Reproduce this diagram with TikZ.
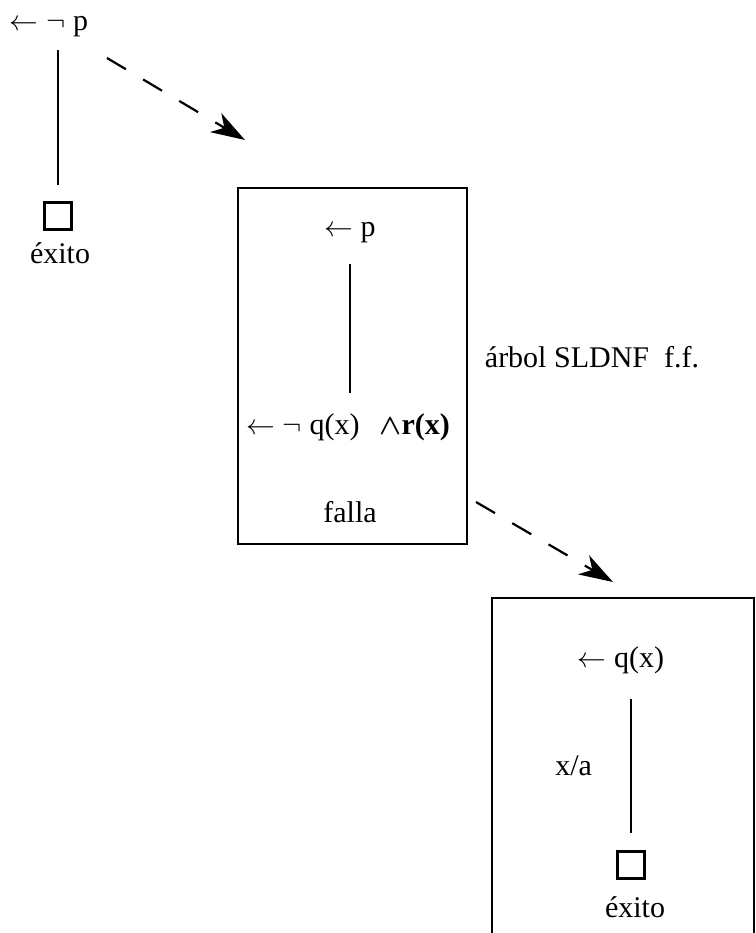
\documentclass[tikz,border=0pt]{standalone}
\usepackage{amsmath}
\usepackage{fontspec}
\setmainfont{Liberation Serif}
\usepackage{tikz}
\usetikzlibrary{arrows.meta,positioning}

\begin{document}
\begin{tikzpicture}[
      x=0.5pt, y=-0.5pt,
      every node/.style={font=\fontsize{15}{18}\selectfont, inner sep=1pt},
      leaf/.style={draw, line width=1.2pt, minimum size=13.5pt, inner sep=0pt},
      subtree/.style={draw, line width=1.1pt, inner sep=0pt},
      branch/.style={line width=1.1pt},
      call/.style={line width=1.1pt, dash pattern=on 11pt off 10pt,
        -{Stealth[length=17pt, width=11pt, inset=5pt]}}
    ]
    \useasboundingbox (0,0) rectangle (756,933);
    % main SLDNF derivation
    \node (np) at (49,27) {$\leftarrow\neg$ p};
    \node[leaf] (sq1) at (58,216) {};
    \node (ex1) at (60,253) {éxito};
    \draw[branch] (sq1.north |- 0,50) -- (sq1.north |- 0,185);
    % subsidiary tree for p
    \node[subtree, minimum width=114.5pt, minimum height=178pt] (box2) at (352.5,366) {};
    \node (np2) at (350,233) {$\leftarrow$ p};
    \node (nq) at (348,427) {$\leftarrow\neg$ q(x)\enspace\,$\boldsymbol{\wedge}$\textbf{r(x)}};
    \node (falla) at (350,512) {falla};
    \draw[branch] (np2.south |- 0,264) -- (np2.south |- 0,393);
    \node (lbl) at (592,357) {árbol SLDNF\enspace f.f.};
    % subsidiary tree for q(x)
    \node[subtree, minimum width=131pt, minimum height=180pt] (box3) at (623,778) {};
    \node (nq3) at (621,660) {$\leftarrow$ q(x)};
    \node[leaf] (sq2) at (631,865) {};
    \node (ex2) at (635,907) {éxito};
    \draw[branch] (sq2.north |- 0,699) -- node[left=18pt] {x/a} (sq2.north |- 0,833);
    % calls to the subsidiary trees
    \coordinate (c1) at (107,58);
    \coordinate (c2) at (245,140);
    \coordinate (c3) at (476,502);
    \coordinate (c4) at (613,582);
    \draw[call] (c1) -- (c2);
    \draw[call] (c3) -- (c4);
  \end{tikzpicture}
\end{document}
